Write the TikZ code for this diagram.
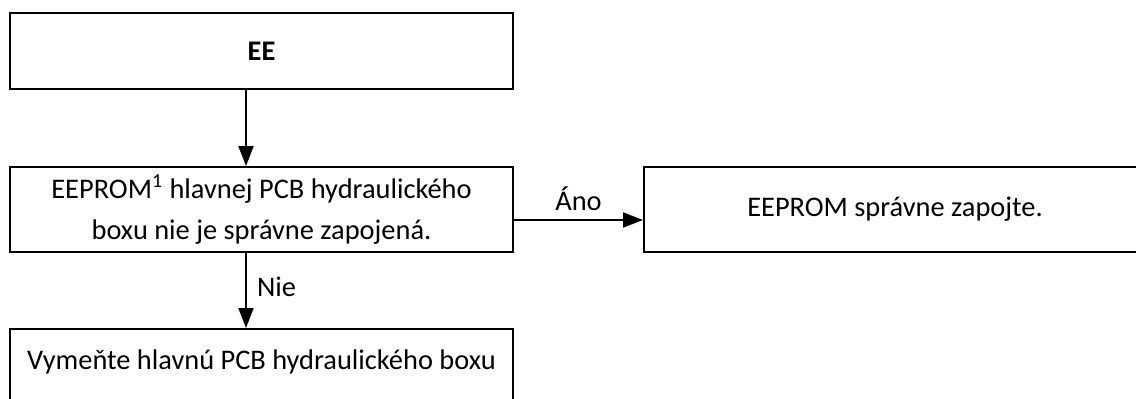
\documentclass[tikz,border=0pt]{standalone}
\usepackage{fontspec}
\setmainfont{Carlito}
\usetikzlibrary{arrows.meta}

\begin{document}
\begin{tikzpicture}[
                x=0.5pt, y=-0.5pt,
                every node/.style={font=\fontsize{14.2}{20.5}\selectfont},
                box/.style={draw, line width=1pt, inner sep=3pt, align=center},
                arr/.style={line width=1pt, -{Triangle[length=10pt, width=7.5pt]}}
            ]

                % Picture frame, the reference is cut on the right and below
                \useasboundingbox (0,0) rectangle (1136,398);
                \clip (0,0) rectangle (1136,398);

                % Boxes of the flow
                \node[box, minimum width=251.5pt, minimum height=38pt] (ee) at (261.5,51) {\textbf{EE}};
                \node[box, minimum width=251.5pt, minimum height=42.5pt] (cause) at (261.5,209.5)
                    {EEPROM\textsuperscript{1} hlavnej PCB hydraulického\\boxu nie je správne zapojená.};
                \node[box, minimum width=251pt, minimum height=42.5pt] (fix) at (895,209.5) {EEPROM správne zapojte.};
                \node[box, minimum width=251.5pt, minimum height=42.5pt, text depth=12pt, anchor=north] (repl) at (261.5,328)
                    {Vymeňte hlavnú PCB hydraulického boxu};

                % Helper coordinates for the connectors
                \coordinate (spine) at (246,0);
                \coordinate (yes) at (0,220);

                % Connectors
                \draw[arr] (spine |- ee.south) -- (spine |- cause.north);
                \draw[arr] (cause.east |- yes) -- node[above, inner sep=4pt] {Áno} (fix.west |- yes);
                \draw[arr] (spine |- cause.south) -- node[right, inner sep=5pt, pos=0.45] {Nie} (spine |- repl.north);

            \end{tikzpicture}
\end{document}
